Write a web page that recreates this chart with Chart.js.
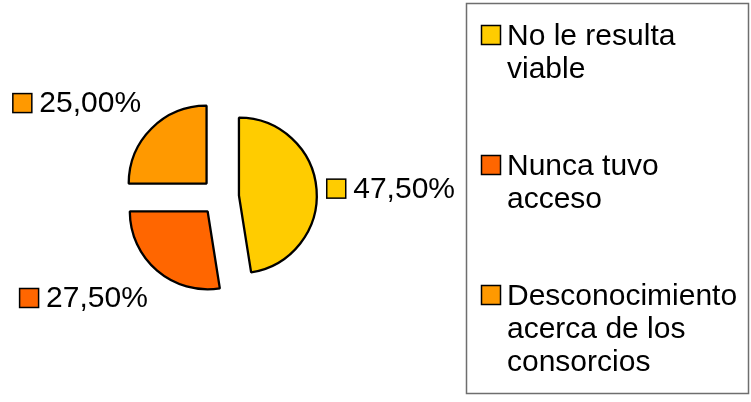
<!DOCTYPE html>
<html>
<head>
<meta charset="utf-8">
<script src="https://cdn.jsdelivr.net/npm/chart.js@4"></script>
<style>
  body { margin: 0; background: #fff; }
  #wrap { position: relative; width: 751px; height: 402px; }
</style>
</head>
<body>
<div id="wrap"><canvas id="pieChart"></canvas></div>
<script>
// data
const categories = [
  ["No le resulta", "viable"],
  ["Nunca tuvo", "acceso"],
  ["Desconocimiento", "acerca de los", "consorcios"],
];
const percentages = [47.5, 27.5, 25.0];
const sliceColors = ["#FFCC00", "#FF6600", "#FF9900"];

const EXPLODE = 19;
const FONT = '30px "Liberation Sans", Arial, sans-serif';

function fmt(v) {
  return v.toFixed(2).replace(".", ",") + "%";
}

function drawMarker(ctx, x, y, color) {
  ctx.fillStyle = color;
  ctx.fillRect(x, y, 19, 19);
  ctx.lineWidth = 1.5;
  ctx.strokeStyle = "#000";
  ctx.strokeRect(x, y, 19, 19);
}

// pull each slice out from the centre
const explodePlugin = {
  id: "explode",
  beforeDatasetsDraw(chart) {
    chart.getDatasetMeta(0).data.forEach((arc) => {
      if (arc._exploded) return;
      const baseDraw = arc.draw.bind(arc);
      arc.draw = function (ctx) {
        const mid = (this.startAngle + this.endAngle) / 2;
        ctx.save();
        ctx.translate(Math.cos(mid) * EXPLODE, Math.sin(mid) * EXPLODE);
        baseDraw(ctx);
        ctx.restore();
      };
      arc._exploded = true;
    });
  },
};

const labelPlugin = {
  id: "sliceLabels",
  afterDraw(chart) {
    const ctx = chart.ctx;
    const ds = chart.data.datasets[0];
    ctx.save();
    ctx.font = FONT;
    ctx.textBaseline = "alphabetic";

    // value labels next to slices
    chart.getDatasetMeta(0).data.forEach((arc, i) => {
      const mid = (arc.startAngle + arc.endAngle) / 2;
      const dx = Math.cos(mid);
      const dy = Math.sin(mid);
      const vx = arc.x + dx * EXPLODE;
      const vy = arc.y + dy * EXPLODE;
      const gap = 8 + 22 * Math.abs(dx * dy);
      const ax = vx + dx * (arc.outerRadius + gap);
      const ay = vy + dy * (arc.outerRadius + gap);
      const text = fmt(ds.data[i]);
      const w = 20 + 7 + ctx.measureText(text).width;
      const h = 20;
      const boxH = 26;
      let left = dx >= 0 ? ax : ax - w + 3;
      let top;
      if (Math.abs(dy) < 0.3) top = ay - h / 2;
      else if (dy < 0) top = ay - boxH + (boxH - h) / 2 + 1;
      else top = ay + (boxH - h) / 2;
      drawMarker(ctx, left + 0.5, top + 0.5, ds.backgroundColor[i]);
      ctx.fillStyle = "#000";
      ctx.fillText(text, left + 27, top + h - 1);
    });

    // legend box
    ctx.lineWidth = 1.5;
    ctx.strokeStyle = "#6e6e6e";
    ctx.strokeRect(466.5, 3.5, 282, 390);
    chart.data.labels.forEach((lines, i) => {
      const base = 45 + i * 130;
      drawMarker(ctx, 481.5, base - 19.5, ds.backgroundColor[i]);
      ctx.fillStyle = "#000";
      lines.forEach((line, j) => {
        ctx.fillText(line, 507, base + j * 33);
      });
    });
    ctx.restore();
  },
};

new Chart(document.getElementById("pieChart"), {
  type: "pie",
  data: {
    labels: categories,
    datasets: [
      {
        data: percentages,
        backgroundColor: sliceColors,
        borderColor: "#000",
        borderWidth: 2.3,
      },
    ],
  },
  options: {
    responsive: true,
    maintainAspectRatio: false,
    animation: false,
    layout: {
      padding: { left: 141, right: 452, top: 118, bottom: 126 },
    },
    plugins: {
      legend: { display: false },
      tooltip: { enabled: false },
    },
  },
  plugins: [explodePlugin, labelPlugin],
});
</script>
</body>
</html>
